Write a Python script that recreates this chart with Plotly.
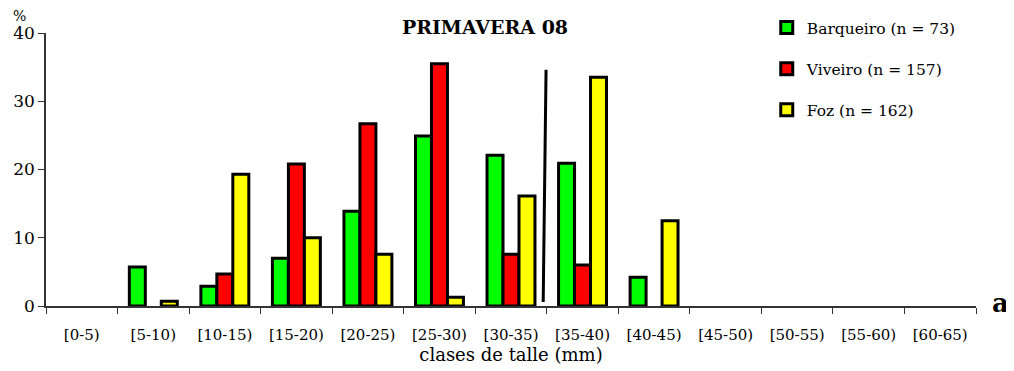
import plotly.graph_objects as go

categories = ["[0-5)", "[5-10)", "[10-15)", "[15-20)", "[20-25)", "[25-30)", "[30-35)",
              "[35-40)", "[40-45)", "[45-50)", "[50-55)", "[55-60)", "[60-65)"]
barqueiro = [0, 5.7, 2.9, 7.0, 13.9, 24.9, 22.1, 20.9, 4.2, 0, 0, 0, 0]
viveiro = [0, 0, 4.7, 20.8, 26.7, 35.5, 7.6, 6.0, 0, 0, 0, 0, 0]
foz = [0, 0.7, 19.3, 10.0, 7.6, 1.3, 16.1, 33.5, 12.5, 0, 0, 0, 0]
series_names = ["Barqueiro (n = 73)", "Viveiro (n = 157)", "Foz (n = 162)"]
series_colors = ["#00FF00", "#FF0000", "#FFFF00"]

FONT = "DejaVu Serif"

fig = go.Figure()
for name, vals, col in zip(series_names, [barqueiro, viveiro, foz], series_colors):
    fig.add_trace(go.Bar(
        x=categories, y=[v if v > 0 else None for v in vals], name=name,
        legendgroup=name,
        marker=dict(color=col, line=dict(color="black", width=3)),
    ))

# separator line between [30-35) and [35-40)
fig.add_shape(type="line", xref="x", yref="y", x0=6.49, x1=6.45, y0=34.6, y1=0.6,
              line=dict(color="black", width=3))

# page body adds an 8px offset; the figure is sized to fill the rest of the window
fig.update_layout(
    width=1006, height=363,
    margin=dict(l=38, r=38, t=0, b=65),
    plot_bgcolor="white", paper_bgcolor="white",
    barmode="group", bargap=0.33, bargroupgap=0,
    font=dict(family=FONT, color="black", size=15),
    title=dict(text="<b>PRIMAVERA 08</b>", x=477/1006, xanchor="center",
               xref="container", yref="container", y=1 - 19/363, yanchor="middle",
               font=dict(family=FONT, size=19, color="black")),
    legend=dict(x=0.775, y=0.99, xanchor="left", yanchor="top",
                font=dict(family=FONT, size=15.5, color="black"),
                traceorder="grouped", tracegroupgap=18, bgcolor="rgba(0,0,0,0)"),
    xaxis=dict(type="category", range=[-0.5, 12.5], showline=True, linecolor="#333333",
               linewidth=1.5, ticks="outside", tickson="boundaries", ticklen=6,
               tickcolor="#333333", showgrid=False, automargin=False, tickangle=0,
               ticklabelstandoff=14,
               tickfont=dict(family=FONT, size=15),
               title=dict(text="clases de talle (mm)", font=dict(family=FONT, size=18), standoff=0)),
    yaxis=dict(range=[0, 40], tickvals=[0, 10, 20, 30, 40], showline=True, linecolor="#333333",
               linewidth=1.5, ticks="outside", ticklen=6, tickcolor="#333333", showgrid=False,
               zeroline=False, automargin=False, domain=[0, 273/298],
               tickfont=dict(family=FONT, size=17)),
)

fig.add_annotation(text="%", xref="x domain", yref="y domain", x=-0.028, y=1.062, showarrow=False,
                   xanchor="center", yanchor="middle", font=dict(family=FONT, size=14))
fig.add_annotation(text="<b>a</b>", xref="x domain", yref="y domain", x=1.026, y=0.01, showarrow=False,
                   xanchor="center", yanchor="middle", font=dict(family=FONT, size=26))

fig.write_html("out.html")
